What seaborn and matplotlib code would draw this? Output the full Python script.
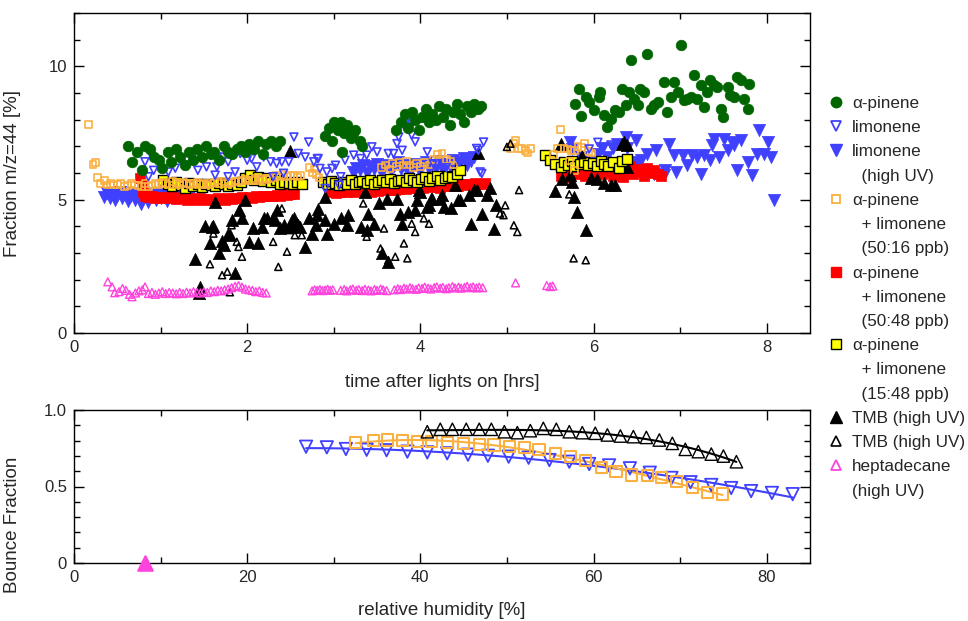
import numpy as np
import pandas as pd
import matplotlib
matplotlib.use("Agg")
import matplotlib.pyplot as plt
from matplotlib.lines import Line2D
from matplotlib.ticker import MultipleLocator
import seaborn as sns

sns.set_style("ticks")
plt.rcParams['font.family'] = ['Liberation Sans', 'DejaVu Sans']
plt.rcParams['axes.linewidth'] = 1.0

# ---------------- top panel data: time after lights on [hrs] vs Fraction m/z=44 [%]
apinene_t = [0.62,0.67,0.73,0.78,0.82,0.88,0.92,0.98,1.02,1.08,1.12,1.18,1.22,1.28,1.33,1.38,1.42,1.48,1.53,1.58,1.62,1.68,1.73,1.78,1.83,1.88,1.93,1.98,2.02,2.08,2.13,2.18,2.22,2.28,2.33,2.38,
             2.90,2.95,3.00,3.05,3.08,3.12,3.15,3.20,3.25,3.30,3.33,2.98,3.10,3.22,
             3.72,3.78,3.82,3.86,3.90,3.94,3.98,4.02,4.06,4.10,4.14,4.18,4.22,4.26,4.30,4.34,4.38,4.42,4.46,4.50,4.54,4.58,4.62,4.66,4.70,
             5.83,5.79,5.85,5.91,5.95,6.00,6.06,6.08,6.12,6.16,6.20,6.25,6.29,6.33,6.37,6.41,6.43,6.47,6.51,6.54,6.58,6.62,6.66,6.70,6.74,6.81,6.85,6.89,6.93,6.97,7.01,7.04,7.08,7.12,7.16,7.20,7.24,7.28,7.31,7.35,7.39,7.43,7.47,7.49,7.55,7.58,7.62,7.66,7.70,7.74,7.78,7.80]
apinene_f = [7.0,6.4,6.8,6.1,7.0,6.9,6.6,6.5,6.2,6.8,6.4,6.9,6.6,6.3,6.8,6.5,6.9,6.6,7.0,6.7,6.8,6.5,7.0,6.8,6.7,6.9,7.0,6.8,7.1,6.9,7.2,6.7,7.1,7.2,7.0,7.2,
             7.4,7.7,7.9,7.6,7.9,7.5,7.8,7.3,7.6,7.2,7.0,7.2,6.8,7.5,
             7.6,7.9,8.2,7.7,8.3,8.0,7.6,8.1,8.4,7.9,8.2,8.0,8.5,8.1,8.4,7.8,8.3,8.6,8.2,7.9,8.5,8.3,8.6,8.4,8.5,
             9.16,8.60,8.13,8.85,8.66,8.35,8.85,9.04,8.16,7.73,8.04,8.35,8.29,9.16,8.54,9.04,10.22,8.79,8.54,9.16,9.04,10.48,8.41,8.54,8.66,9.41,8.29,8.85,9.41,9.04,10.79,8.73,8.79,8.85,9.66,8.79,9.29,8.48,9.04,9.48,9.29,9.23,8.41,8.10,9.23,8.91,8.85,9.60,9.48,8.79,8.41,9.35]

limonene_t = [0.82,0.86,0.88,0.92,1.09,1.17,1.23,1.30,1.38,1.43,1.53,1.63,1.65,1.73,1.78,1.78,1.86,1.92,2.00,2.05,2.11,2.19,2.27,2.30,2.34,2.40,2.42,2.48,2.54,2.59,2.67,2.71,2.77,2.82,
              2.81,2.84,2.90,2.92,2.98,3.02,3.06,3.08,3.13,3.23,3.31,3.38,3.44,3.50,3.63,3.69,3.73,3.75,3.79,3.81,3.85,3.86,3.88,3.90,3.90,3.94,4.08,4.15,4.30,4.45,4.65,4.67,4.69,4.71,4.73,
              5.95,6.05,6.12,6.20]
limonene_f = [6.42,5.86,6.75,6.10,6.04,6.18,6.48,6.48,6.67,6.10,6.23,5.92,6.23,6.60,6.42,5.86,6.04,6.73,6.48,6.54,6.23,6.60,6.42,5.86,6.36,6.42,5.99,6.42,7.35,6.73,6.60,7.16,6.42,6.54,
              6.54,6.17,5.42,6.04,6.17,6.29,5.54,5.86,6.48,6.67,6.54,6.67,6.98,6.79,6.73,6.73,7.10,7.35,6.85,7.79,7.98,7.66,7.73,7.85,7.42,7.17,6.79,6.35,6.20,6.40,6.92,6.85,6.04,5.98,7.16,
              6.90,7.15,6.95,7.05]

limonene_uv_t = [0.35,0.38,0.41,0.44,0.47,0.50,0.53,0.56,0.59,0.62,0.65,0.68,0.71,0.74,0.77,0.80,0.83,0.86,0.89,0.92,0.95,0.98,1.01,1.04,1.07,1.10,1.13,1.16,1.19,1.22,1.25,1.28,1.31,1.34,
                 3.22,3.26,3.30,3.34,3.38,3.42,3.46,3.50,3.54,3.58,3.62,3.66,3.70,3.74,3.78,3.82,3.86,3.90,3.94,3.98,4.02,4.06,4.10,4.14,4.18,4.22,4.26,4.30,4.34,4.38,4.42,4.46,4.50,4.54,4.58,4.62,
                 5.73,5.75,5.85,5.95,6.05,6.10,6.16,6.22,6.27,6.33,6.37,6.39,6.45,6.49,6.51,6.55,6.60,6.62,6.70,6.72,6.81,6.83,6.87,6.93,6.95,7.03,7.08,7.14,7.20,7.24,7.28,7.35,7.37,7.39,7.45,7.51,7.55,7.60,7.62,7.66,7.70,7.78,7.83,7.89,7.91,7.97,8.01,8.05,8.08]
limonene_uv_f = [5.10,5.25,5.05,5.20,5.00,5.15,5.30,5.05,5.20,4.95,5.10,5.25,5.00,5.15,4.85,5.05,5.20,4.90,5.10,5.25,5.00,5.15,5.05,5.20,4.95,5.10,5.25,5.05,5.15,5.20,5.10,5.25,5.15,5.20,
                 6.05,6.20,6.10,6.30,6.00,6.25,6.15,6.35,6.05,6.20,6.30,6.10,6.25,6.40,6.15,6.30,6.05,6.20,6.35,6.10,6.25,6.40,6.15,6.30,6.20,6.45,6.10,6.35,6.25,6.50,6.20,6.40,6.55,6.30,6.45,6.60,
                 7.17,6.90,6.60,6.40,6.70,6.92,6.60,6.92,7.10,5.92,7.35,6.92,6.30,7.23,6.42,6.50,6.10,6.73,5.98,6.85,5.92,6.10,7.10,6.67,6.04,6.67,6.29,6.67,6.60,5.98,6.67,6.48,7.04,7.29,6.60,7.29,6.85,7.17,7.04,6.10,7.23,6.42,5.92,6.73,7.60,6.73,7.17,6.60,4.98]

mix5016_t = [0.17,0.22,0.25,0.27,0.30,0.35,0.38,0.42,0.46,0.50,0.54,0.58,0.62,0.66,0.70,0.74,0.78,0.82,0.86,0.90,0.94,0.98,1.02,1.06,1.10,1.14,1.18,1.22,1.26,1.30,1.34,1.38,1.42,1.46,1.50,1.54,1.58,1.62,1.66,1.70,1.74,1.78,1.82,1.86,1.90,1.94,1.98,2.02,2.06,2.10,2.14,2.18,2.22,2.26,2.30,2.34,2.38,2.42,2.46,2.50,2.54,2.58,2.62,
             2.72,2.75,2.78,2.80,2.83,
             3.55,3.60,3.65,3.68,3.72,3.76,3.80,3.84,3.88,3.92,3.96,4.00,4.05,4.10,4.15,4.20,4.25,4.30,4.35,4.38,
             5.04,5.08,5.10,5.13,5.17,5.21,5.24,5.27,
             5.54,5.58,5.62,5.66,5.70,5.72,5.74,5.78,5.78,5.82,5.86,5.90,5.94,5.98]
mix5016_f = [7.82,6.31,6.40,5.82,5.62,5.72,5.55,5.60,5.55,5.58,5.60,5.50,5.52,5.60,5.55,5.52,5.48,5.60,5.50,5.55,5.62,5.58,5.65,5.60,5.55,5.68,5.62,5.58,5.65,5.60,5.55,5.60,5.65,5.58,5.62,5.55,5.60,5.65,5.70,5.62,5.68,5.60,5.65,5.70,5.68,5.72,5.75,5.70,5.72,5.78,5.72,5.80,5.75,5.78,5.82,5.90,5.85,5.95,5.88,5.92,5.90,5.85,5.90,
             6.20,6.00,6.15,5.95,5.82,
             6.20,6.30,6.15,6.35,6.25,6.40,6.30,6.45,6.30,6.20,6.35,6.25,6.40,6.30,6.50,6.70,6.72,6.50,6.45,6.30,
             6.92,7.10,7.23,6.92,6.92,6.85,6.75,6.92,
             6.70,6.92,7.64,6.92,6.90,6.45,6.85,6.85,6.10,7.00,6.95,7.10,6.80,6.75]

mix5048_t = [0.76,0.78,0.80,0.82,0.86,0.90,0.94,0.98,1.02,1.06,1.10,1.14,1.18,1.22,1.26,1.30,1.34,1.38,1.42,1.46,1.50,1.54,1.58,1.62,1.66,1.70,1.74,1.78,1.82,1.86,1.90,1.94,1.98,2.02,2.06,2.10,2.14,2.18,2.22,2.26,2.30,2.34,2.38,2.42,2.46,2.50,2.54,
             2.95,2.99,3.03,3.07,3.11,3.15,3.19,3.23,3.27,3.31,3.35,3.39,3.43,3.47,3.51,3.55,3.59,3.63,3.67,3.71,3.75,3.79,3.83,3.87,3.91,3.95,3.99,4.03,4.07,4.11,4.15,4.19,4.23,4.27,4.31,4.35,4.39,4.43,4.47,4.51,4.55,4.59,4.63,4.67,4.71,4.75,
             5.62,5.66,5.70,5.74,5.78,5.82,5.86,5.90,5.94,5.98,6.02,6.06,6.10,6.14,6.18,6.22,6.26,6.30,6.34,6.38,6.42,6.46,6.50,6.54,6.58,6.62,6.66,6.70,6.74,6.78]
mix5048_f = [5.82,5.55,5.30,5.15,5.10,5.12,5.08,5.10,5.05,5.10,5.05,5.10,5.02,5.08,5.05,5.00,5.05,5.02,5.00,5.05,5.02,4.98,5.02,5.00,5.05,5.02,5.00,5.05,5.02,5.08,5.05,5.10,5.05,5.10,5.08,5.12,5.10,5.15,5.12,5.15,5.12,5.18,5.15,5.20,5.18,5.22,5.20,
             5.28,5.32,5.25,5.30,5.35,5.28,5.33,5.30,5.36,5.32,5.38,5.34,5.30,5.37,5.33,5.40,5.36,5.42,5.38,5.35,5.41,5.44,5.40,5.46,5.42,5.45,5.48,5.44,5.50,5.46,5.52,5.48,5.45,5.52,5.55,5.50,5.56,5.53,5.58,5.55,5.60,5.57,5.62,5.58,5.60,5.63,
             5.90,6.10,5.85,6.05,6.20,5.95,6.10,5.90,6.15,6.00,5.85,6.10,5.95,6.20,6.05,5.90,6.15,6.00,5.85,6.10,6.25,5.95,6.05,6.15,5.90,6.20,6.00,6.10,5.95,5.90]

mix1548_t = [1.03,1.08,1.13,1.18,1.23,1.28,1.33,1.38,1.43,1.48,1.53,1.58,1.63,1.68,1.73,1.78,1.83,1.88,1.93,1.98,2.03,2.08,2.13,2.18,2.23,2.28,2.33,2.38,2.43,2.48,2.53,2.58,2.63,
             2.88,2.93,2.97,3.02,3.06,3.11,3.15,3.20,3.24,3.29,3.33,3.38,3.42,3.47,3.51,3.56,3.60,3.65,3.69,3.74,3.78,3.83,3.87,3.92,3.96,4.01,4.05,4.10,4.14,4.19,4.23,4.28,4.32,4.37,4.42,4.46,
             5.44,5.50,5.55,5.62,5.66,5.71,5.75,5.78,5.84,5.89,5.94,5.99,6.04,6.09,6.12,6.17,6.22,6.29,6.33,6.39]
mix1548_f = [5.73,5.60,5.50,5.65,5.55,5.45,5.62,5.52,5.58,5.48,5.60,5.55,5.50,5.62,5.58,5.52,5.60,5.55,5.65,5.80,5.92,5.75,5.85,5.70,5.80,5.65,5.72,5.60,5.68,5.62,5.58,5.65,5.60,
             5.65,5.58,5.70,5.62,5.55,5.68,5.60,5.72,5.58,5.65,5.70,5.62,5.75,5.60,5.68,5.72,5.65,5.78,5.62,5.70,5.75,5.68,5.80,5.72,5.65,5.78,5.85,5.70,5.80,5.88,5.75,5.82,5.90,5.85,5.95,6.10,
             6.67,6.48,6.35,6.23,6.40,6.30,6.45,6.25,6.35,6.42,6.30,6.38,6.25,6.45,6.35,6.28,6.40,6.17,6.45,6.54]

tmb_t = [1.40,1.44,1.46,1.51,1.57,1.59,1.61,1.63,1.67,1.71,1.73,1.78,1.80,1.82,1.86,1.90,1.94,1.98,2.02,2.07,2.13,2.17,2.19,2.23,2.30,2.32,2.34,2.38,2.42,2.50,2.50,2.52,2.54,2.57,2.59,2.61,2.67,2.71,2.75,2.79,2.81,2.82,2.90,2.90,2.92,
         3.00,3.08,3.15,3.17,3.31,3.36,3.38,3.40,3.46,3.52,3.56,3.61,3.63,3.73,3.77,3.79,3.86,3.94,3.96,3.98,4.00,4.08,4.10,4.12,4.14,4.23,4.25,4.27,4.35,4.40,4.44,4.46,4.56,4.58,4.62,4.65,4.67,4.71,4.77,4.81,4.85,4.87,
         5.56,5.62,5.64,5.73,5.75,5.77,5.81,5.87,5.91,5.97,6.04,6.12,6.18,6.20,6.25,6.33,6.35,6.39,6.39]
tmb_f = [2.78,1.49,1.73,4.00,3.36,3.98,4.00,4.90,2.99,3.45,3.30,3.73,3.67,4.23,2.24,4.61,4.30,5.00,3.42,3.92,3.36,3.98,4.30,4.30,4.30,4.23,4.61,3.92,4.04,3.98,6.82,4.23,4.30,4.10,4.04,3.98,3.23,4.33,3.73,4.04,4.42,4.64,5.10,4.23,3.73,
         4.10,4.30,4.04,4.42,3.98,5.29,3.86,4.48,4.10,4.86,2.99,5.04,2.67,5.04,4.48,4.10,4.54,4.61,4.98,5.36,5.29,4.73,4.79,5.04,5.04,5.04,5.17,4.73,4.67,5.54,4.98,4.98,5.17,4.10,5.36,5.36,6.76,4.48,5.17,5.45,3.89,4.79,
         5.32,7.10,5.79,5.92,5.67,5.10,4.54,6.60,3.86,5.82,5.79,5.61,6.36,5.54,5.54,7.10,7.17,7.04,6.23]

tmb2_t = [1.57,1.61,1.71,1.77,1.80,1.82,1.88,1.90,1.94,2.30,2.36,2.40,2.46,2.50,2.55,2.63,
          3.34,3.38,3.54,3.58,3.63,3.71,3.81,3.85,3.90,3.94,4.04,4.10,
          4.92,4.96,4.98,5.00,5.04,5.08,5.12,5.14,5.72,5.75,5.77,5.87,5.91]
tmb2_f = [2.58,3.73,2.17,2.30,1.53,4.04,3.42,3.23,2.86,3.42,2.48,4.67,3.05,3.86,3.67,3.67,
          4.86,3.61,3.17,3.92,2.73,2.86,3.36,2.80,4.10,3.79,4.30,4.10,
          4.48,4.42,4.79,6.98,7.10,4.04,3.79,5.36,5.20,5.86,2.80,6.67,2.73]

hepta_t = [0.39,0.44,0.47,0.52,0.56,0.60,0.64,0.67,0.71,0.75,0.79,0.82,0.86,0.90,0.94,0.98,1.02,1.06,1.10,1.14,1.18,1.22,1.26,1.30,1.34,1.38,1.42,1.46,1.50,1.54,1.58,1.62,1.66,1.70,1.74,1.78,1.82,1.86,1.90,1.94,1.98,2.02,2.06,2.10,2.14,2.18,2.22,
           2.75,2.78,2.81,2.84,2.87,2.90,2.93,2.96,2.99,
           3.08,3.12,3.15,3.19,3.22,3.26,3.29,3.33,3.36,3.40,3.43,3.47,3.50,3.54,3.57,3.61,
           3.70,3.74,3.77,3.81,3.84,3.88,3.91,3.95,3.98,4.02,4.05,4.09,4.12,4.16,4.19,4.23,4.26,4.30,4.33,4.37,4.40,4.44,4.47,4.51,4.54,4.58,4.61,4.65,4.68,4.72,
           5.10,5.46,5.50,5.53]
hepta_f = [1.92,1.73,1.51,1.55,1.67,1.60,1.45,1.36,1.50,1.58,1.62,1.73,1.48,1.52,1.45,1.50,1.55,1.48,1.52,1.50,1.47,1.52,1.48,1.53,1.50,1.55,1.52,1.50,1.55,1.52,1.58,1.55,1.60,1.58,1.62,1.65,1.70,1.75,1.78,1.72,1.65,1.62,1.60,1.55,1.58,1.52,1.50,
           1.58,1.62,1.60,1.63,1.59,1.61,1.64,1.60,1.62,
           1.60,1.63,1.58,1.62,1.65,1.60,1.63,1.59,1.64,1.61,1.58,1.63,1.60,1.65,1.62,1.59,
           1.62,1.66,1.63,1.68,1.65,1.70,1.66,1.64,1.69,1.67,1.72,1.68,1.65,1.70,1.73,1.68,1.71,1.66,1.70,1.74,1.69,1.72,1.68,1.71,1.75,1.70,1.73,1.69,1.72,1.70,
           1.88,1.78,1.74,1.76]

# ---------------- bottom panel data: relative humidity [%] vs Bounce Fraction
lim_rh = [26.8,29.2,31.4,33.8,36.1,38.5,40.8,43.1,45.5,47.8,50.2,52.5,54.9,57.2,59.5,61.8,64.2,66.5,69.0,71.2,73.6,75.9,78.2,80.6,83.0]
lim_bf = [0.760,0.756,0.745,0.740,0.737,0.728,0.723,0.717,0.708,0.701,0.695,0.688,0.673,0.662,0.647,0.638,0.619,0.590,0.556,0.528,0.510,0.490,0.470,0.458,0.450]
mix_rh = [32.5,34.6,36.2,37.9,39.7,41.3,43.1,45.0,46.8,48.5,50.3,52.0,53.7,55.6,57.3,59.1,60.9,62.6,64.4,66.2,67.9,69.6,71.4,73.2,74.9]
mix_bf = [0.786,0.800,0.804,0.800,0.797,0.793,0.788,0.782,0.777,0.771,0.764,0.756,0.739,0.717,0.695,0.669,0.625,0.597,0.575,0.569,0.560,0.532,0.495,0.460,0.451]
tmb_rh = [40.8,42.3,43.7,45.3,46.8,48.2,49.7,51.2,52.7,54.2,55.7,57.2,58.7,60.2,61.6,63.1,64.6,66.1,67.6,69.1,70.6,72.1,73.6,75.0,76.5]
tmb_bf = [0.858,0.874,0.874,0.874,0.874,0.874,0.858,0.852,0.865,0.880,0.874,0.858,0.852,0.848,0.837,0.830,0.826,0.821,0.804,0.782,0.743,0.728,0.712,0.699,0.662]
hep_rh = [8.2]
hep_bf = [0.0]

# ---------------- colours
GREEN = "#006400"
BLUE = "#4040FF"
ORANGE = "#FBB040"
RED = "#FF0000"
YELLOW = "#FFFF00"
MAGENTA = "#FF44DD"

fig = plt.figure(figsize=(9.68, 6.21), dpi=100)
W, H = 968, 621
ax1 = fig.add_axes([74 / W, 1 - 333 / H, 736 / W, 320 / H])
ax2 = fig.add_axes([74 / W, 1 - 563 / H, 736 / W, 153 / H])


def pts(ax, x, y, marker, s, face, edge, lw, z, clip=True):
    sns.scatterplot(x=x, y=y, marker=marker, s=s,
                    color=(edge if face == "none" else face),
                    facecolor=face, edgecolor=edge, linewidth=lw,
                    ax=ax, zorder=z, legend=False, clip_on=clip)


pts(ax1, limonene_uv_t, limonene_uv_f, "v", 78, BLUE, BLUE, 0.5, 2)
pts(ax1, mix5048_t, mix5048_f, "s", 48, RED, RED, 0.5, 3)
pts(ax1, tmb_t, tmb_f, "^", 78, "black", "black", 0.5, 4)
pts(ax1, mix1548_t, mix1548_f, "s", 56, YELLOW, "black", 1.0, 5)
pts(ax1, mix5016_t, mix5016_f, "s", 24, "none", ORANGE, 1.2, 6)
pts(ax1, limonene_t, limonene_f, "v", 32, "none", BLUE, 1.2, 7)
pts(ax1, apinene_t, apinene_f, "o", 58, GREEN, GREEN, 0.5, 8)
pts(ax1, tmb2_t, tmb2_f, "^", 26, "none", "black", 1.1, 9)
pts(ax1, hepta_t, hepta_f, "^", 32, "none", MAGENTA, 1.0, 10)

# bottom panel
for x, y, c in [(lim_rh, lim_bf, BLUE), (mix_rh, mix_bf, ORANGE), (tmb_rh, tmb_bf, "black")]:
    sns.regplot(x=np.array(x), y=np.array(y), order=3, ci=None, scatter=False,
                line_kws=dict(color=c, lw=1.5, zorder=3), ax=ax2)
pts(ax2, lim_rh, lim_bf, "v", 80, "none", BLUE, 1.3, 4)
pts(ax2, mix_rh, mix_bf, "s", 64, "none", ORANGE, 1.5, 5)
pts(ax2, tmb_rh, tmb_bf, "^", 80, "none", "black", 1.0, 6)
pts(ax2, hep_rh, hep_bf, "^", 110, MAGENTA, MAGENTA, 1.5, 7, clip=False)

TICK_FS = 12
LABEL_FS = 13.5
for ax in (ax1, ax2):
    ax.tick_params(which="both", direction="in", top=True, right=True,
                   labelsize=TICK_FS, width=1.0, color="black", pad=5)
    ax.tick_params(which="major", length=7)
    ax.tick_params(which="minor", length=4)
    for sp in ax.spines.values():
        sp.set_visible(True)
        sp.set_color("black")
        sp.set_linewidth(1.0)

ax1.set_xlim(0, 8.5)
ax1.set_ylim(0, 12)
ax1.xaxis.set_major_locator(MultipleLocator(2))
ax1.xaxis.set_minor_locator(MultipleLocator(1))
ax1.yaxis.set_major_locator(MultipleLocator(5))
ax1.yaxis.set_minor_locator(MultipleLocator(1))
ax1.set_xlabel("time after lights on [hrs]", fontsize=LABEL_FS, labelpad=14)
ax1.set_ylabel("Fraction m/z=44 [%]", fontsize=LABEL_FS)
ax1.yaxis.set_label_coords(-0.072, 0.5)

ax2.set_xlim(0, 85)
ax2.set_ylim(0, 1.0)
ax2.xaxis.set_major_locator(MultipleLocator(20))
ax2.xaxis.set_minor_locator(MultipleLocator(10))
ax2.yaxis.set_major_locator(MultipleLocator(0.5))
ax2.yaxis.set_minor_locator(MultipleLocator(0.1))
ax2.set_yticks([0, 0.5, 1.0])
ax2.set_yticklabels(["0", "0.5", "1.0"])
ax2.set_xlabel("relative humidity [%]", fontsize=LABEL_FS, labelpad=12)
ax2.set_ylabel("Bounce Fraction", fontsize=LABEL_FS)
ax2.yaxis.set_label_coords(-0.072, 0.25)

# legend
def mk(marker, face, edge, ms, mew=1.0):
    return Line2D([0], [0], linestyle="none", marker=marker, markersize=ms,
                  markerfacecolor=face, markeredgecolor=edge, markeredgewidth=mew)

blank = Line2D([0], [0], linestyle="none", marker=None, color="none")
handles = [mk("o", GREEN, GREEN, 7.5), mk("v", "none", BLUE, 6.5, 1.3), mk("v", BLUE, BLUE, 8), blank,
           mk("s", "none", ORANGE, 6, 1.3), blank, blank,
           mk("s", RED, RED, 7), blank, blank,
           mk("s", YELLOW, "black", 7.5), blank, blank,
           mk("^", "black", "black", 8), mk("^", "none", "black", 6.5, 1.2),
           mk("^", "none", MAGENTA, 6.5, 1.3), blank]
labels = ["α-pinene", "limonene", "limonene", "  (high UV)",
          "α-pinene", "  + limonene", "  (50:16 ppb)",
          "α-pinene", "  + limonene", "  (50:48 ppb)",
          "α-pinene", "  + limonene", "  (15:48 ppb)",
          "TMB (high UV)", "TMB (high UV)", "heptadecane", "(high UV)"]
fig.legend(handles, labels, loc="upper left", bbox_to_anchor=(827 / W, 1 - 96 / H),
           frameon=False, fontsize=12.3, handlelength=1.0, handletextpad=0.45,
           borderpad=0, borderaxespad=0, labelspacing=0.54)

fig.savefig("out.png", dpi=100)
